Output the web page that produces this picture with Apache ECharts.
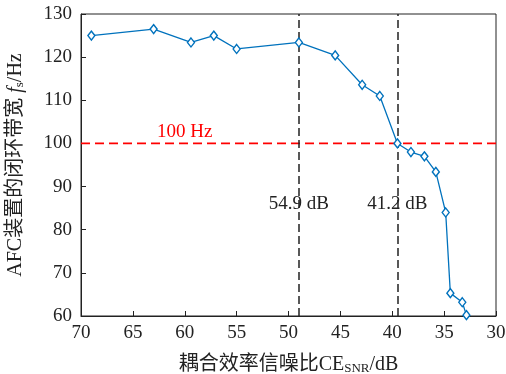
<!DOCTYPE html>
<html>
<head>
<meta charset="utf-8">
<title>AFC</title>
<script src="https://cdn.jsdelivr.net/npm/echarts@6/dist/echarts.min.js"></script>
<style>
  html, body { margin: 0; padding: 0; background: #fff; }
</style>
</head>
<body>
<div id="chart" style="width: 506px; height: 374px"></div>
<script>
// 耦合效率信噪比 (dB) 与闭环带宽 (Hz)
const snr = [69.0, 63.0, 59.4, 57.2, 55.0, 49.0, 45.5, 42.9, 41.2, 39.5, 38.2, 36.9, 35.8, 34.85, 34.4, 33.25, 32.85]
const bandwidth = [125.0, 126.5, 123.4, 125.0, 121.9, 123.4, 120.4, 113.6, 111.0, 100.0, 98.0, 97.0, 93.4, 84.0, 65.3, 63.2, 60.2]
const xTicks = [30, 35, 40, 45, 50, 55, 60, 65, 70]
const yTicks = [60, 70, 80, 90, 100, 110, 120, 130]
const limitHz = 100
const cutLines = [49.0, 39.5]
const cutLabels = ['54.9 dB', '41.2 dB']

const serif = '"Liberation Serif", "Noto Sans CJK SC", serif'
const blue = '#0072BD'
const ink = '#222'
const xMin = xTicks[0]
const xMax = xTicks[xTicks.length - 1]

const chart = echarts.init(document.getElementById('chart'))

chart.setOption({
  backgroundColor: '#fff',
  animation: false,
  grid: {
    left: 81,
    right: 10,
    top: 14,
    bottom: 58,
    outerBoundsMode: 'none',
    containLabel: false,
    show: true,
    borderColor: ink,
    borderWidth: 1
  },
  xAxis: {
    type: 'value',
    inverse: true,
    min: xMin,
    max: xMax,
    interval: 5,
    name: '耦合效率信噪比CE{sub|SNR}/dB',
    nameLocation: 'middle',
    nameGap: 38,
    nameTextStyle: {
      fontFamily: serif,
      fontSize: 20,
      color: ink,
      rich: {
        sub: { fontFamily: serif, fontSize: 13, color: ink, verticalAlign: 'bottom', padding: [8, 0, 0, 0] }
      }
    },
    axisLine: { lineStyle: { color: ink } },
    axisTick: { inside: true, length: 5, lineStyle: { color: ink } },
    axisLabel: { fontFamily: serif, fontSize: 19, color: ink, margin: 8 },
    splitLine: { show: false }
  },
  yAxis: {
    type: 'value',
    min: yTicks[0],
    max: yTicks[yTicks.length - 1],
    interval: 10,
    name: 'AFC装置的闭环带宽 {i|f}{sub|s}/Hz',
    nameLocation: 'middle',
    nameGap: 55,
    nameRotate: 90,
    nameTextStyle: {
      fontFamily: serif,
      fontSize: 20,
      color: ink,
      rich: {
        i: { fontFamily: serif, fontSize: 20, fontStyle: 'italic', color: ink },
        sub: { fontFamily: serif, fontSize: 13, color: ink, verticalAlign: 'bottom', padding: [8, 0, 0, 0] }
      }
    },
    axisLine: { lineStyle: { color: ink } },
    axisTick: { inside: true, length: 5, lineStyle: { color: ink } },
    axisLabel: { fontFamily: serif, fontSize: 19, color: ink, margin: 9 },
    splitLine: { show: false }
  },
  series: [
    {
      // 100 Hz 参考线
      type: 'line',
      data: [[xMin, limitHz], [xMax, limitHz]],
      symbol: 'none',
      silent: true,
      lineStyle: { color: '#ff0000', type: [9, 5], width: 1.8 },
      z: 3,
      markPoint: {
        silent: true,
        symbol: 'circle',
        symbolSize: 0,
        label: { show: true, fontFamily: serif, fontSize: 19, color: '#ff0000', formatter: '{c}' },
        data: [{ coord: [60.0, 102.6], value: limitHz + ' Hz' }]
      }
    },
    {
      type: 'line',
      data: snr.map((x, i) => [x, bandwidth[i]]),
      symbol: 'diamond',
      symbolSize: [7, 9],
      lineStyle: { color: blue, width: 1.3 },
      itemStyle: { color: '#fff', borderColor: blue, borderWidth: 1.4 },
      z: 5,
      markLine: {
        silent: true,
        symbol: 'none',
        label: { show: false },
        lineStyle: { color: ink, type: [8, 4], width: 1.5 },
        data: cutLines.map(x => ({ xAxis: x }))
      },
      markPoint: {
        silent: true,
        symbol: 'circle',
        symbolSize: 0,
        label: { show: true, fontFamily: serif, fontSize: 19, color: ink, formatter: '{c}' },
        data: cutLines.map((x, i) => ({ coord: [x, 86.0], value: cutLabels[i] }))
      }
    }
  ]
})
</script>
</body>
</html>
